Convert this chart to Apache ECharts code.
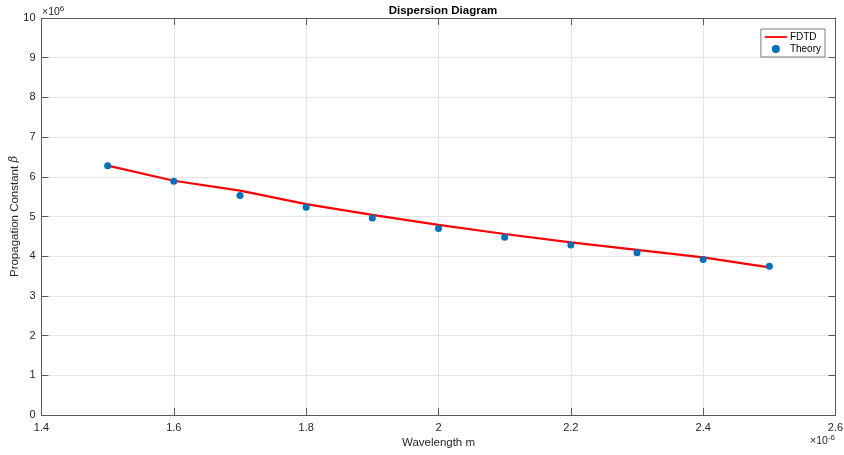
<!DOCTYPE html>
<html>
<head>
<meta charset="utf-8">
<script src="https://cdn.jsdelivr.net/npm/echarts@6/dist/echarts.min.js"></script>
<style>
  html, body { margin: 0; padding: 0; background: #fff; }
  #echart1 { width: 844px; height: 455px; }
</style>
</head>
<body>
<div id="echart1"></div>
<script>
// wavelength in units of 1e-6 m, beta in units of 1e6
const wavelength = [1.5, 1.6, 1.7, 1.8, 1.9, 2.0, 2.1, 2.2, 2.3, 2.4, 2.5];
const fdtd = [6.28, 5.90, 5.65, 5.31, 5.04, 4.79, 4.56, 4.35, 4.16, 3.97, 3.72];
const theory = [6.28, 5.89, 5.53, 5.23, 4.96, 4.70, 4.48, 4.28, 4.09, 3.92, 3.75];

const fontFamily = "'Liberation Sans', Arial, sans-serif";
const axisColor = '#5a5a5a';
const textColor = '#262626';

let myChart = echarts.init(document.getElementById('echart1'));

const baseX = {
  type: 'value',
  min: 1.4,
  max: 2.6,
  interval: 0.2,
  axisLine: { show: true, onZero: false, lineStyle: { color: axisColor, width: 1 } },
  axisTick: { show: true, inside: true, length: 7, lineStyle: { color: axisColor } },
};
const baseY = {
  type: 'value',
  min: 0,
  max: 10,
  interval: 1,
  axisLine: { show: true, onZero: false, lineStyle: { color: axisColor, width: 1 } },
  axisTick: { show: true, inside: true, length: 7, lineStyle: { color: axisColor } },
};

myChart.setOption({
  animation: false,
  backgroundColor: '#fff',
  textStyle: { fontFamily: fontFamily },
  title: {
    text: 'Dispersion Diagram',
    left: 438,
    textAlign: 'center',
    top: 0,
    textStyle: { fontSize: 11.5, fontWeight: 'bold', color: '#000', fontFamily: fontFamily }
  },
  grid: { left: 41.5, right: 8.5, top: 18, bottom: 40, outerBoundsMode: 'none', containLabel: false },
  legend: {
    orient: 'vertical',
    right: 19,
    top: 29,
    padding: [3, 4, 3, 4],
    itemGap: 2,
    itemWidth: 22,
    itemHeight: 8,
    borderColor: '#7a7a7a',
    borderWidth: 1,
    backgroundColor: '#fff',
    textStyle: { fontSize: 10, color: '#000', fontFamily: fontFamily, padding: [0, 0, 0, -2] },
    data: [
      { name: 'FDTD', icon: 'path://M0,0L24,0L24,2L0,2Z' },
      { name: 'Theory', icon: 'circle' }
    ]
  },
  xAxis: [
    Object.assign({}, baseX, {
      position: 'bottom',
      name: 'Wavelength m',
      nameLocation: 'middle',
      nameGap: 22,
      nameMoveOverlap: false,
      nameTextStyle: { fontSize: 11.5, color: textColor },
      axisLabel: { color: textColor, fontSize: 11, margin: 7 },
      splitLine: { show: true, lineStyle: { color: '#e5e5e5', width: 1 } }
    }),
    Object.assign({}, baseX, {
      position: 'top',
      axisLabel: { show: false },
      splitLine: { show: false }
    })
  ],
  yAxis: [
    Object.assign({}, baseY, {
      position: 'left',
      name: 'Propagation Constant {b|β}',
      nameLocation: 'middle',
      nameGap: 21,
      nameMoveOverlap: false,
      nameTextStyle: {
        fontSize: 11.5, color: textColor,
        rich: { b: { fontSize: 11.5, fontStyle: 'italic', color: textColor, fontFamily: "'DejaVu Serif', serif" } }
      },
      axisLabel: { color: textColor, fontSize: 11, margin: 6 },
      splitLine: { show: true, lineStyle: { color: '#e5e5e5', width: 1 } }
    }),
    Object.assign({}, baseY, {
      position: 'right',
      axisLabel: { show: false },
      splitLine: { show: false }
    })
  ],
  graphic: [
    {
      type: 'text',
      left: 42,
      top: 5,
      style: {
        text: '×10{s|6}',
        fill: textColor,
        font: '10.5px ' + fontFamily,
        rich: { s: { fontSize: 8, verticalAlign: 'top', padding: [0, 0, 6, 0], fill: textColor } }
      }
    },
    {
      type: 'text',
      right: 9,
      top: 434,
      style: {
        text: '×10{s|-6}',
        fill: textColor,
        font: '10.5px ' + fontFamily,
        rich: { s: { fontSize: 8, verticalAlign: 'top', padding: [0, 0, 6, 0], fill: textColor } }
      }
    }
  ],
  series: [
    {
      name: 'FDTD',
      type: 'line',
      data: wavelength.map((w, i) => [w, fdtd[i]]),
      symbol: 'none',
      lineStyle: { color: '#ff0000', width: 2.2 },
      itemStyle: { color: '#ff0000' },
      z: 2
    },
    {
      name: 'Theory',
      type: 'scatter',
      data: wavelength.map((w, i) => [w, theory[i]]),
      symbol: 'circle',
      symbolSize: 7,
      itemStyle: { color: '#0072BD', opacity: 1 },
      z: 3
    }
  ]
});
</script>
</body>
</html>
